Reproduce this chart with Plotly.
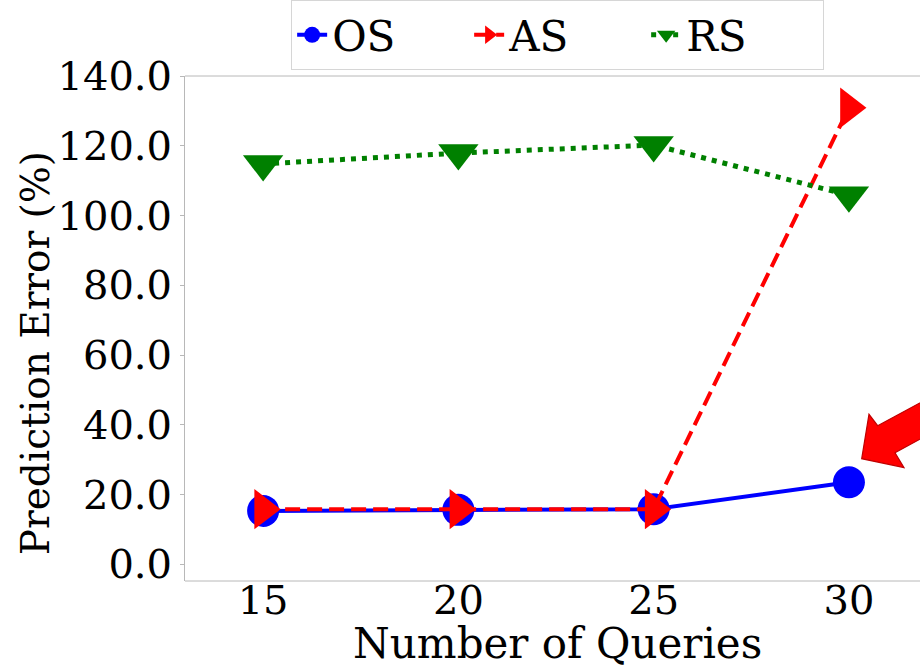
import plotly.graph_objects as go

# Number of queries on the x axis
queries = [15, 20, 25, 30]

# Prediction error (%) per sampling strategy
os_err = [15.3, 15.6, 15.8, 23.5]
as_err = [15.8, 15.8, 15.8, 130.9]
rs_err = [114.8, 117.9, 120.2, 105.8]

y_ticks = [0, 20, 40, 60, 80, 100, 120, 140]

FONT = "DejaVu Serif"
TICK_FS = 40
SPINE = "#b8b8b8"

fig = go.Figure()

fig.add_trace(go.Scatter(
    x=queries, y=os_err, name="OS", mode="lines+markers",
    line=dict(color="#0000ff", width=4),
    marker=dict(symbol="circle", size=32, color="#0000ff"),
))
fig.add_trace(go.Scatter(
    x=queries, y=as_err, name="AS", mode="lines+markers",
    line=dict(color="#ff0000", width=4, dash="15px,7px"),
    marker=dict(symbol="triangle-right", size=35, color="#ff0000"),
))
fig.add_trace(go.Scatter(
    x=queries, y=rs_err, name="RS", mode="lines+markers",
    line=dict(color="#008000", width=5, dash="5px,6px"),
    marker=dict(symbol="triangle-down", size=35, color="#008000"),
))

# Plot area in pixels (used to place the pointer arrow and titles in paper units)
L, R, T, B = 185, 920, 69, 581
def px(xp, yp):
    return (xp - L) / (R - L), (B - yp) / (B - T)

arrow_pts = [
    (861.7, 457.0),   # tip
    (869.0, 412.0),   # upper wing
    (877.7, 423.5),   # upper notch
    (960.0, 378.5),   # shaft end (upper)
    (960.0, 415.0),   # shaft end (lower)
    (895.0, 451.0),   # lower notch
    (904.0, 466.0),   # lower wing
]
path = ""
for i, (a, b) in enumerate(arrow_pts):
    u, v = px(a, b)
    path += ("M" if i == 0 else "L") + f"{u:.4f},{v:.4f} "
path += "Z"

fig.add_shape(type="path", path=path, xref="paper", yref="paper",
              fillcolor="#ff0000", line=dict(color="#c00000", width=1.2),
              layer="above")

# Top and bottom frame lines (x axis itself is lifted slightly so its labels sit close)
for yy in (0, 1):
    fig.add_shape(type="line", xref="paper", yref="paper", x0=0, x1=1.05, y0=yy, y1=yy,
                  line=dict(color=SPINE, width=1), layer="above")

# Axis titles
xt_x, xt_y = px(557, 644)
yt_x, yt_y = px(35, 350)
fig.add_annotation(text="Number of Queries", xref="paper", yref="paper",
                   x=xt_x, y=xt_y, xanchor="center", yanchor="middle",
                   showarrow=False, font=dict(family=FONT, size=42, color="black"))
fig.add_annotation(text="Prediction Error (%)", xref="paper", yref="paper",
                   x=yt_x, y=yt_y, xanchor="center", yanchor="middle", textangle=-90,
                   showarrow=False, font=dict(family=FONT, size=39, color="black"))

fig.update_layout(
    width=920, height=668,
    margin=dict(l=L, r=920 - R, t=T, b=668 - B),
    paper_bgcolor="white", plot_bgcolor="white",
    font=dict(family=FONT, size=TICK_FS, color="black"),
    showlegend=True,
    legend=dict(
        orientation="h", x=0.507, xanchor="center", y=1.012, yanchor="bottom",
        bgcolor="white", bordercolor="#d6d6d6", borderwidth=1,
        font=dict(family=FONT, size=42), entrywidth=132, itemsizing="trace",
    ),
    xaxis=dict(
        range=[13.0, 31.82], tickvals=queries, ticktext=[str(q) for q in queries],
        showgrid=False, zeroline=False, showline=False,
        anchor="free", position=0.016, ticks="",
        tickfont=dict(family=FONT, size=TICK_FS),
    ),
    yaxis=dict(
        range=[-4.8, 140], tickvals=y_ticks, ticktext=[f"{v:.1f}" for v in y_ticks],
        showgrid=False, zeroline=False, showline=True, linecolor=SPINE, linewidth=1,
        ticks="outside", ticklen=4, tickcolor=SPINE,
        tickfont=dict(family=FONT, size=TICK_FS),
    ),
)

fig.write_html("out.html")
